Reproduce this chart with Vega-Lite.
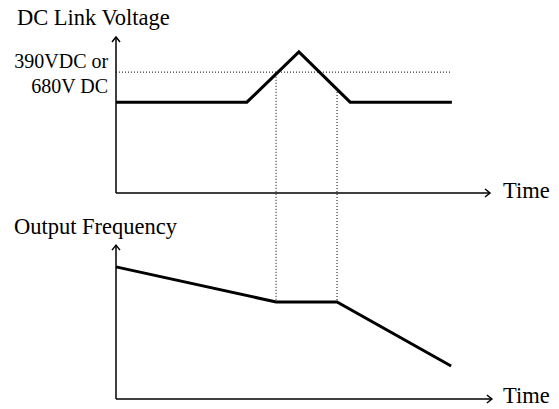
{
  "$schema": "https://vega.github.io/schema/vega-lite/v6.json",
  "autosize": "none",
  "width": 374,
  "height": 362,
  "padding": {"left": 116, "right": 69, "top": 37, "bottom": 10},
  "background": "white",
  "config": {"view": {"stroke": null}, "text": {"font": "Liberation Serif", "fontSize": 20, "color": "black"}},
  "datasets": {
    "curves": [
      {"series": "voltage", "i": 1, "t": 0, "v": 82},
      {"series": "voltage", "i": 2, "t": 35.0, "v": 82},
      {"series": "voltage", "i": 3, "t": 48.9, "v": 95.9},
      {"series": "voltage", "i": 4, "t": 62.6, "v": 82},
      {"series": "voltage", "i": 5, "t": 89.8, "v": 82},
      {"series": "frequency", "i": 1, "t": 0, "v": 36.5},
      {"series": "frequency", "i": 2, "t": 42.8, "v": 26.8},
      {"series": "frequency", "i": 3, "t": 59.1, "v": 26.8},
      {"series": "frequency", "i": 4, "t": 89.6, "v": 9.1}
    ],
    "axes": [
      {"t": 0, "v": 56.9, "t2": 100, "v2": 56.9},
      {"t": 0, "v": 56.9, "t2": 0, "v2": 100},
      {"t": 0, "v": 0, "t2": 100.5, "v2": 0},
      {"t": 0, "v": 0, "t2": 0, "v2": 42.5}
    ],
    "guides": [
      {"t": 0, "v": 90.3, "t2": 89.8, "v2": 90.3},
      {"t": 42.8, "v": 89.0, "t2": 42.8, "v2": 26.8},
      {"t": 59.1, "v": 84.8, "t2": 59.1, "v2": 26.8}
    ],
    "arrowsRight": [{"t": 100, "v": 56.9}, {"t": 100.5, "v": 0}],
    "arrowsUp": [{"t": 0, "v": 100}, {"t": 0, "v": 42.5}],
    "labelsLeft": [
      {"t": -26.5, "v": 103.3, "label": "DC Link Voltage"},
      {"t": -27.3, "v": 45.6, "label": "Output Frequency"},
      {"t": 103.5, "v": 55.5, "label": "Time"},
      {"t": 103.5, "v": -1.1, "label": "Time"}
    ],
    "labelsRight": [
      {"t": -2.1, "v": 91.4, "label": "390VDC or"},
      {"t": -2.1, "v": 84.5, "label": "680V DC"}
    ]
  },
  "layer": [
    {
      "data": {"name": "guides"},
      "mark": {"type": "rule", "color": "black", "strokeWidth": 1, "strokeDash": [1, 2]},
      "encoding": {
        "x": {"field": "t", "type": "quantitative", "scale": {"domain": [0, 100], "nice": false, "zero": false}, "axis": null},
        "y": {"field": "v", "type": "quantitative", "scale": {"domain": [0, 100], "nice": false, "zero": false}, "axis": null},
        "x2": {"field": "t2"},
        "y2": {"field": "v2"}
      }
    },
    {
      "data": {"name": "axes"},
      "mark": {"type": "rule", "color": "black", "strokeWidth": 1.5},
      "encoding": {
        "x": {"field": "t", "type": "quantitative", "scale": {"domain": [0, 100], "nice": false, "zero": false}, "axis": null},
        "y": {"field": "v", "type": "quantitative", "scale": {"domain": [0, 100], "nice": false, "zero": false}, "axis": null},
        "x2": {"field": "t2"},
        "y2": {"field": "v2"}
      }
    },
    {
      "data": {"name": "curves"},
      "mark": {"type": "line", "color": "black", "strokeWidth": 3, "strokeJoin": "miter"},
      "encoding": {
        "x": {"field": "t", "type": "quantitative", "scale": {"domain": [0, 100], "nice": false, "zero": false}, "axis": null},
        "y": {"field": "v", "type": "quantitative", "scale": {"domain": [0, 100], "nice": false, "zero": false}, "axis": null},
        "detail": {"field": "series"},
        "order": {"field": "i"}
      }
    },
    {
      "data": {"name": "arrowsRight"},
      "mark": {"type": "point", "shape": "M-1,-0.8L0,0L-1,0.8", "size": 100, "filled": false, "color": "black", "strokeWidth": 1.5, "opacity": 1},
      "encoding": {
        "x": {"field": "t", "type": "quantitative", "scale": {"domain": [0, 100], "nice": false, "zero": false}, "axis": null},
        "y": {"field": "v", "type": "quantitative", "scale": {"domain": [0, 100], "nice": false, "zero": false}, "axis": null}
      }
    },
    {
      "data": {"name": "arrowsUp"},
      "mark": {"type": "point", "shape": "M-0.8,1L0,0L0.8,1", "size": 100, "filled": false, "color": "black", "strokeWidth": 1.5, "opacity": 1},
      "encoding": {
        "x": {"field": "t", "type": "quantitative", "scale": {"domain": [0, 100], "nice": false, "zero": false}, "axis": null},
        "y": {"field": "v", "type": "quantitative", "scale": {"domain": [0, 100], "nice": false, "zero": false}, "axis": null}
      }
    },
    {
      "data": {"name": "labelsLeft"},
      "mark": {"type": "text", "align": "left", "baseline": "alphabetic", "fontSize": 22.5},
      "encoding": {
        "x": {"field": "t", "type": "quantitative", "scale": {"domain": [0, 100], "nice": false, "zero": false}, "axis": null},
        "y": {"field": "v", "type": "quantitative", "scale": {"domain": [0, 100], "nice": false, "zero": false}, "axis": null},
        "text": {"field": "label"}
      }
    },
    {
      "data": {"name": "labelsRight"},
      "mark": {"type": "text", "align": "right", "baseline": "alphabetic"},
      "encoding": {
        "x": {"field": "t", "type": "quantitative", "scale": {"domain": [0, 100], "nice": false, "zero": false}, "axis": null},
        "y": {"field": "v", "type": "quantitative", "scale": {"domain": [0, 100], "nice": false, "zero": false}, "axis": null},
        "text": {"field": "label"}
      }
    }
  ]
}
